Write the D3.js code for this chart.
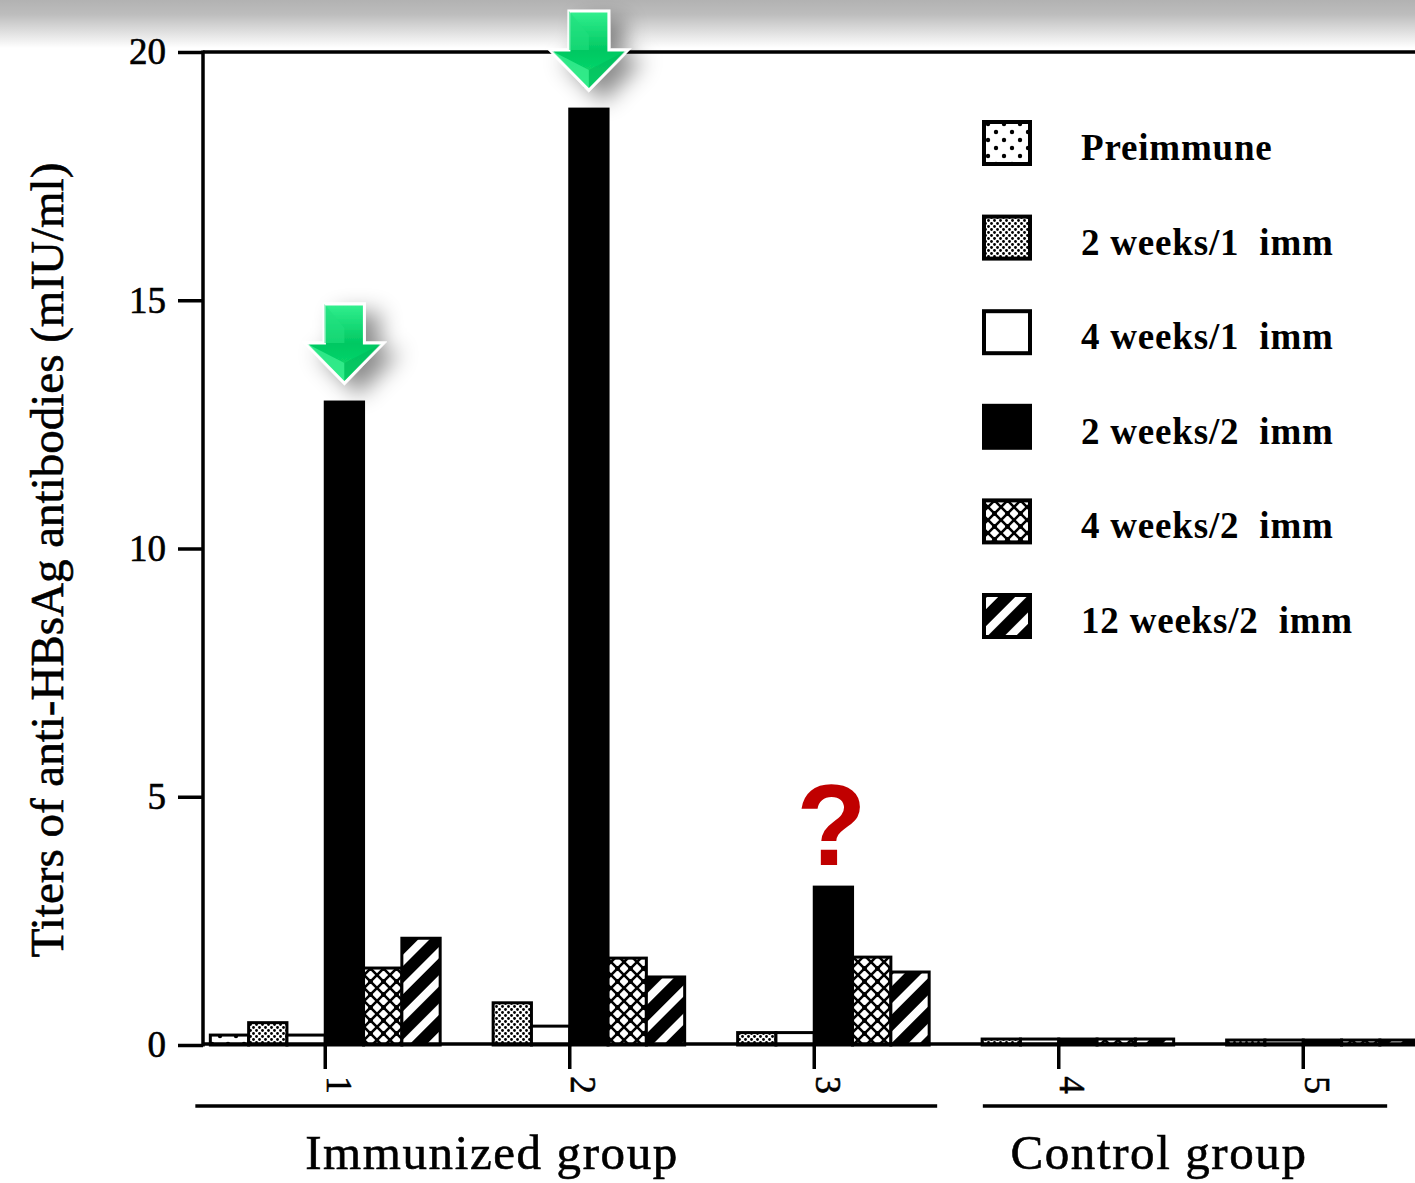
<!DOCTYPE html>
<html>
<head>
<meta charset="utf-8">
<script src="https://cdn.jsdelivr.net/npm/d3@7"></script>
<style>
  html, body { margin: 0; padding: 0; background: #fff; }
  svg { display: block; }
</style>
</head>
<body>
<div id="chart"></div>
<script>
// ---------- data ----------
const groups = ["1", "2", "3", "4", "5"];
const series = ["Preimmune", "2 weeks/1 imm", "4 weeks/1 imm", "2 weeks/2 imm", "4 weeks/2 imm", "12 weeks/2 imm"];
const preimmune  = [0.20, 0.00, 0.00, 0.00, 0.00];
const wk2imm1    = [0.45, 0.85, 0.25, 0.12, 0.10];
const wk4imm1    = [0.20, 0.38, 0.25, 0.12, 0.10];
const wk2imm2    = [12.95, 18.85, 3.18, 0.12, 0.10];
const wk4imm2    = [1.55, 1.75, 1.77, 0.12, 0.10];
const wk12imm2   = [2.15, 1.37, 1.47, 0.12, 0.10];
const seriesValues = [preimmune, wk2imm1, wk4imm1, wk2imm2, wk4imm2, wk12imm2];
const yTicks = [0, 5, 10, 15, 20];
const groupLabels = [
  { label: "Immunized group", groups: ["1", "2", "3"] },
  { label: "Control group", groups: ["4", "5"] }
];
const arrowGroups = ["1", "2"];   // green arrows on 2 weeks/2 imm bars
const questionGroup = "3";        // red question mark

// ---------- layout ----------
const W = 1415, H = 1183;
const svg = d3.select("#chart").append("svg").attr("width", W).attr("height", H);
const defs = svg.append("defs");

// top grey gradient band
const tg = defs.append("linearGradient").attr("id", "topband").attr("x1", 0).attr("y1", 0).attr("x2", 0).attr("y2", 1);
tg.append("stop").attr("offset", 0).attr("stop-color", "#b2b2b2");
tg.append("stop").attr("offset", 0.3).attr("stop-color", "#bdbdbd");
tg.append("stop").attr("offset", 1).attr("stop-color", "#ffffff");
svg.append("rect").attr("x", 0).attr("y", 0).attr("width", W).attr("height", 48).attr("fill", "url(#topband)");

// patterns
function pat(id, w, h, build, transform) {
  const p = defs.append("pattern").attr("id", id).attr("patternUnits", "userSpaceOnUse")
    .attr("width", w).attr("height", h);
  if (transform) p.attr("patternTransform", transform);
  build(p);
}
pat("p-pre", 16, 16, p => {
  p.append("rect").attr("width", 16).attr("height", 16).attr("fill", "#fff");
  p.append("circle").attr("cx", 4).attr("cy", 4).attr("r", 2.2).attr("fill", "#000");
  p.append("circle").attr("cx", 12).attr("cy", 12).attr("r", 2.2).attr("fill", "#000");
});
pat("p-dense", 6, 6, p => {
  p.append("rect").attr("width", 6).attr("height", 6).attr("fill", "#fff");
  p.append("circle").attr("cx", 1.5).attr("cy", 1.5).attr("r", 1.4).attr("fill", "#000");
  p.append("circle").attr("cx", 4.5).attr("cy", 4.5).attr("r", 1.4).attr("fill", "#000");
});
pat("p-cross", 13, 13, p => {
  p.append("rect").attr("width", 13).attr("height", 13).attr("fill", "#fff");
  p.append("path").attr("d", "M0,0L13,13M13,0L0,13").attr("stroke", "#000").attr("stroke-width", 2.6);
  p.append("circle").attr("cx", 6.5).attr("cy", 6.5).attr("r", 2.4).attr("fill", "#000");
  p.append("circle").attr("cx", 0).attr("cy", 0).attr("r", 1.6).attr("fill", "#000");
  p.append("circle").attr("cx", 13).attr("cy", 13).attr("r", 1.6).attr("fill", "#000");
});
pat("p-stripe", 20, 20, p => {
  p.append("rect").attr("width", 20).attr("height", 20).attr("fill", "#000");
  p.append("rect").attr("x", 0).attr("width", 8).attr("height", 20).attr("fill", "#fff");
}, "rotate(45)");

const fills = ["url(#p-pre)", "url(#p-dense)", "#fff", "#000", "url(#p-cross)", "url(#p-stripe)"];

// scales
const axisX = 203;
const x0 = d3.scaleBand().domain(groups).range([axisX, axisX + 5 * 244.5]).paddingInner(0.06).paddingOuter(0.03);
const x1 = d3.scaleBand().domain(series).range([0, x0.bandwidth()]).padding(0);
const y = d3.scaleLinear().domain([0, 20]).range([1045, 52]);

const serif = "'Liberation Serif', 'Times New Roman', serif";

// bars
const barData = [];
groups.forEach((g, gi) => series.forEach((s, si) => {
  const v = seriesValues[si][gi];
  if (v > 0) barData.push({ g, s, si, v });
}));
svg.append("g").selectAll("rect").data(barData).join("rect")
  .attr("x", d => x0(d.g) + x1(d.s))
  .attr("y", d => y(d.v))
  .attr("width", x1.bandwidth())
  .attr("height", d => y(0) - y(d.v))
  .attr("fill", d => fills[d.si])
  .attr("stroke", "#000").attr("stroke-width", 3);

// y axis
const yAxis = d3.axisLeft(y).tickValues(yTicks).tickSize(25).tickPadding(12).tickFormat(d3.format("d"));
const gy = svg.append("g").attr("transform", `translate(${axisX},0)`).call(yAxis);
gy.select(".domain").remove();
gy.selectAll(".tick line").attr("stroke", "#000").attr("stroke-width", 3.5);
gy.selectAll(".tick text").attr("font-family", serif).attr("font-size", 37).attr("fill", "#000")
  .attr("stroke", "#000").attr("stroke-width", 0.6);
svg.append("line").attr("x1", axisX).attr("x2", axisX).attr("y1", y(20) - 1.5).attr("y2", y(0) + 1.5)
  .attr("stroke", "#000").attr("stroke-width", 3.5);
// top frame line
svg.append("line").attr("x1", axisX).attr("x2", W).attr("y1", y(20)).attr("y2", y(20))
  .attr("stroke", "#000").attr("stroke-width", 3.5);
// baseline
svg.append("line").attr("x1", axisX).attr("x2", W).attr("y1", y(0) - 1).attr("y2", y(0) - 1)
  .attr("stroke", "#000").attr("stroke-width", 3.5);

// x axis (group ticks)
const xAxis = d3.axisBottom(x0).tickSize(24).tickPadding(0);
const gx = svg.append("g").attr("transform", `translate(0,${y(0)})`).call(xAxis);
gx.select(".domain").remove();
gx.selectAll(".tick line").attr("stroke", "#000").attr("stroke-width", 3.5);
gx.selectAll(".tick text")
  .attr("font-family", serif).attr("font-size", 35).attr("fill", "#000")
  .attr("stroke", "#000").attr("stroke-width", 0.6)
  .attr("text-anchor", "middle").attr("dy", null)
  .attr("transform", "translate(13,40) rotate(90)")
  .attr("y", 0).attr("x", 0).attr("dominant-baseline", "central");

// group brackets
groupLabels.forEach((gl, i) => {
  const first = gl.groups[0], last = gl.groups[gl.groups.length - 1];
  const xs = i === 0 ? x0(first) - 15 : x0(first) + 39;
  const xe = i === 0 ? x0(last) + x0.bandwidth() + 8 : x0(last) + x0.bandwidth() - 31;
  svg.append("line").attr("x1", xs).attr("x2", xe).attr("y1", 1106).attr("y2", 1106)
    .attr("stroke", "#000").attr("stroke-width", 3.5);
  const cx = i === 0 ? 492 : 1159;
  svg.append("text").attr("x", cx).attr("y", 1169).attr("text-anchor", "middle")
    .attr("font-family", serif).attr("font-size", 49).attr("letter-spacing", 1.6)
    .attr("stroke", "#000").attr("stroke-width", 0.6)
    .attr("fill", "#000").text(gl.label);
});

// y title
svg.append("text")
  .attr("transform", `translate(63,${(160 + 960) / 2}) rotate(-90)`)
  .attr("text-anchor", "middle")
  .attr("font-family", serif).attr("font-size", 47).attr("fill", "#000")
  .attr("stroke", "#000").attr("stroke-width", 0.6)
  .text("Titers of anti-HBsAg antibodies (mIU/ml)");

// legend
const lg = svg.append("g");
series.forEach((s, i) => {
  const cy = 143 + i * 94.6;
  lg.append("rect").attr("x", 984).attr("y", cy - 21).attr("width", 46).attr("height", 42)
    .attr("fill", fills[i]).attr("stroke", "#000").attr("stroke-width", 4);
  lg.append("text").attr("x", 1081).attr("y", cy + 17)
    .attr("font-family", serif).attr("font-size", 37).attr("font-weight", "bold")
    .attr("letter-spacing", 0.8)
    .attr("fill", "#000").text(s.replace(" imm", "  imm"))
    .style("white-space", "pre");
});

// arrows
const ag = defs.append("linearGradient").attr("id", "arrowGrad").attr("x1", 0).attr("y1", 0).attr("x2", 0).attr("y2", 1);
ag.append("stop").attr("offset", 0).attr("stop-color", "#33f08f");
ag.append("stop").attr("offset", 0.5).attr("stop-color", "#00c862");
ag.append("stop").attr("offset", 1).attr("stop-color", "#10e070");
const sh = defs.append("filter").attr("id", "shadow").attr("x", "-50%").attr("y", "-50%").attr("width", "220%").attr("height", "220%");
sh.append("feDropShadow").attr("dx", 14).attr("dy", 10).attr("stdDeviation", 11)
  .attr("flood-color", "#000").attr("flood-opacity", 0.45);

arrowGroups.forEach(g => {
  const gi = groups.indexOf(g);
  const tx = x0(g) + x1(series[3]) + x1.bandwidth() / 2;
  const ty = y(wk2imm2[gi]) - 19;
  const d = `M${tx - 20},${ty - 79}L${tx + 20},${ty - 79}L${tx + 20},${ty - 40}L${tx + 39},${ty - 40}L${tx},${ty}L${tx - 39},${ty - 40}L${tx - 20},${ty - 40}Z`;
  svg.append("path").attr("d", d).attr("fill", "url(#arrowGrad)")
    .attr("stroke", "#fff").attr("stroke-width", 3).attr("filter", "url(#shadow)");
  // facet highlights
  svg.append("path").attr("d", `M${tx - 20},${ty - 79}L${tx},${ty - 55}L${tx},${ty - 40}L${tx - 20},${ty - 40}Z`)
    .attr("fill", "#22e07e").attr("opacity", 0.6);
  svg.append("path").attr("d", `M${tx - 37},${ty - 39}L${tx},${ty - 20}L${tx},${ty - 2}Z`)
    .attr("fill", "#40f295").attr("opacity", 0.7);
  svg.append("path").attr("d", `M${tx + 37},${ty - 39}L${tx},${ty - 20}L${tx},${ty - 2}Z`)
    .attr("fill", "#00b85a").attr("opacity", 0.5);
});

// question mark
{
  const gi = groups.indexOf(questionGroup);
  const qx = x0(questionGroup) + x1(series[3]) + x1.bandwidth() / 2 - 2;
  svg.append("text").attr("x", qx).attr("y", y(wk2imm2[gi]) - 22)
    .attr("text-anchor", "middle")
    .attr("font-family", "'Liberation Sans', Arial, sans-serif").attr("font-weight", "bold")
    .attr("font-size", 115).attr("fill", "#c00000").text("?");
}
</script>
</body>
</html>
